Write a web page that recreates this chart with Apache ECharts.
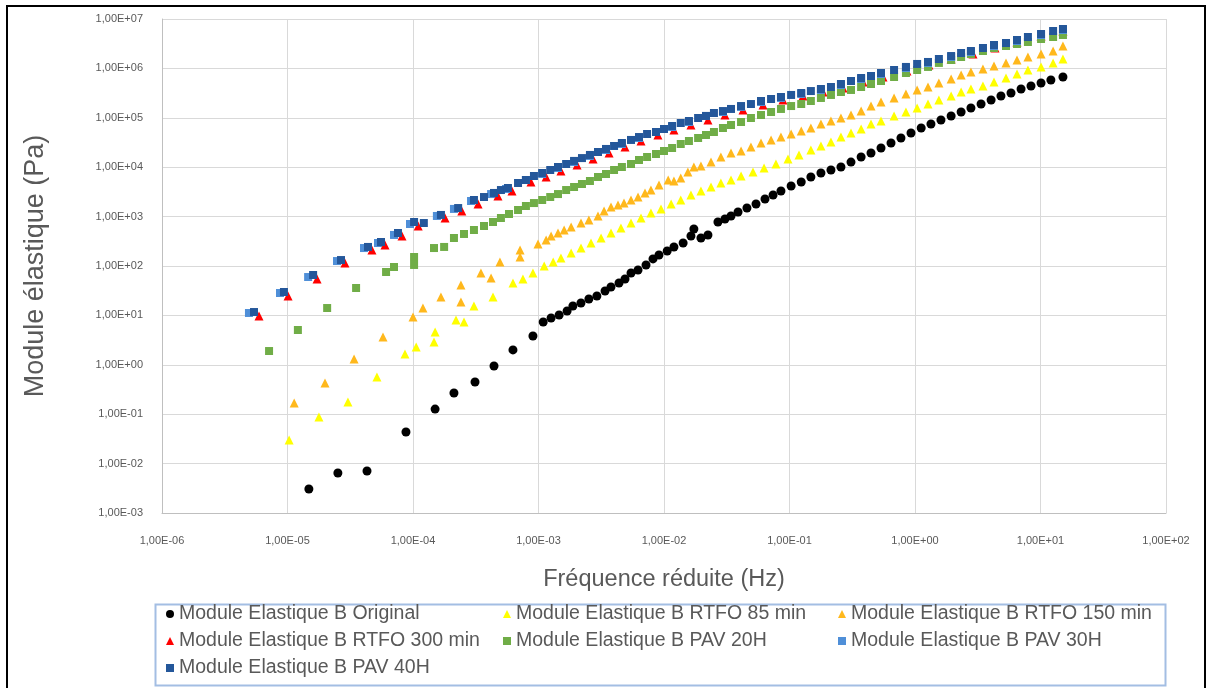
<!DOCTYPE html>
<html><head><meta charset="utf-8">
<script src="https://cdn.jsdelivr.net/npm/echarts@6/dist/echarts.min.js"></script>
<style>html,body{margin:0;padding:0;background:#fff}#c{width:1209px;height:688px}</style>
</head><body><div id="c"></div><script>
const seriesNames = ['Module Elastique B Original','Module Elastique B RTFO 85 min','Module Elastique B RTFO 150 min','Module Elastique B RTFO 300 min','Module Elastique B PAV 20H','Module Elastique B PAV 30H','Module Elastique B PAV 40H'];
const xTickLabels = ['1,00E-06','1,00E-05','1,00E-04','1,00E-03','1,00E-02','1,00E-01','1,00E+00','1,00E+01','1,00E+02'];
const yTickLabels = ['1,00E-03','1,00E-02','1,00E-01','1,00E+00','1,00E+01','1,00E+02','1,00E+03','1,00E+04','1,00E+05','1,00E+06','1,00E+07'];

const dataOriginal = [[1.48e-5,3.06e-3],[2.52e-5,6.45e-3],[4.30e-5,7.08e-3],[8.79e-5,0.0436],[1.50e-4,0.127],[2.12e-4,0.269],[3.12e-4,0.449],[4.42e-4,0.946],[6.26e-4,2.0],[9.03e-4,3.83],
[1.09e-3,7.35],[1.26e-3,8.85],[1.46e-3,10.2],[1.69e-3,12.3],[1.88e-3,15.5],[2.18e-3,17.8],[2.52e-3,21.5],[2.92e-3,24.7],[3.39e-3,31.2],[3.78e-3,37.6],[4.38e-3,45.3],[4.89e-3,54.6],[5.46e-3,72.1],[6.21e-3,83.0],[7.19e-3,105],[8.17e-3,139],[9.12e-3,167],[1.06e-2,201],[1.20e-2,243],[1.42e-2,292],[1.64e-2,405],[1.73e-2,561],[1.97e-2,369],[2.24e-2,425],[2.69e-2,778],[3.06e-2,894],[3.42e-2,1028],[3.89e-2,1239],[4.58e-2,1493],[5.41e-2,1799],[6.38e-2,2270],[7.40e-2,2735],[8.55e-2,3296],
[0.103,4159],[0.124,5012],[0.148,6339],[0.178,7638],[0.214,8770],[0.257,1.01e4],[0.309,1.27e4],[0.372,1.61e4],[0.446,1.94e4],[0.536,2.45e4],[0.644,3.09e4],[0.773,3.90e4],[0.929,4.92e4],[1.12,6.22e4],[1.34,7.48e4],[1.61,9.02e4],[1.94,1.09e5],[2.33,1.31e5],[2.79,1.58e5],[3.36,1.90e5],[4.04,2.29e5],[4.84,2.76e5],[5.82,3.18e5],[7.00,3.83e5],[8.40,4.41e5],[10.1,5.06e5],[12.1,5.82e5],[15.1,6.70e5]];

const dataRTFO85 = [[1.03e-5,0.0301],[1.78e-5,0.0877],[3.03e-5,0.177],[5.16e-5,0.566],[8.63e-5,1.66],[1.06e-4,2.29],[1.47e-4,2.89],[1.50e-4,4.61],[2.20e-4,8.07],[2.55e-4,7.35],[3.06e-4,15.5],[4.34e-4,23.6],[6.26e-4,45.3],[7.52e-4,54.6],[9.03e-4,72.1],[1.11e-3,100],[1.31e-3,121],[1.51e-3,145],[1.82e-3,183],[2.18e-3,231],[2.62e-3,292],[3.15e-3,369],[3.78e-3,466],[4.54e-3,587],[5.46e-3,741],[6.56e-3,937],[7.87e-3,1180],[9.46e-3,1430],[1.14e-2,1800],[1.36e-2,2170],[1.64e-2,2740],[1.97e-2,3300],[2.37e-2,3970],[2.84e-2,4790],[3.42e-2,5510],[4.11e-2,6640],[5.12e-2,8000],[6.27e-2,9640],[7.80e-2,1.16e4],[9.73e-2,1.47e4],[0.119,1.77e4],[0.148,2.23e4],[0.178,2.69e4],[0.214,3.24e4],[0.257,4.08e4],[0.309,4.92e4],[0.372,5.93e4],[0.446,7.48e4],[0.536,8.61e4],[0.681,1.09e5],[0.847,1.31e5],[1.04,1.58e5],[1.27,1.90e5],[1.55,2.29e5],[1.94,2.76e5],[2.33,3.33e5],[2.79,3.83e5],[3.48,4.41e5],[4.26,5.31e5],[5.31,6.40e5],[6.50,7.71e5],[7.94,9.29e5],[10.1,1.07e6],[12.6,1.29e6],[15.1,1.55e6]];

const dataRTFO150 = [[1.13e-5,0.169],[1.99e-5,0.429],[3.39e-5,1.31],[5.77e-5,3.66],[1.00e-4,9.29],[1.20e-4,14.1],[1.67e-4,23.6],[2.41e-4,41.2],[2.41e-4,18.7],[3.48e-4,72.1],[4.19e-4,57.2],[4.93e-4,121],[7.13e-4,152],[7.13e-4,211],[9.91e-4,279],[1.15e-3,336],[1.26e-3,405],[1.43e-3,466],[1.60e-3,535],[1.82e-3,615],[2.18e-3,741],[2.52e-3,853],[2.98e-3,1030],[3.33e-3,1300],[3.78e-3,1560],[4.30e-3,1720],[4.80e-3,1880],[5.46e-3,2170],[6.21e-3,2490],[7.06e-3,3010],[7.87e-3,3450],[9.12e-3,4360],[1.08e-2,5510],[1.20e-2,5260],[1.36e-2,6040],[1.55e-2,8000],[1.73e-2,1.01e4],[1.97e-2,1.06e4],[2.37e-2,1.27e4],[2.84e-2,1.61e4],[3.42e-2,1.94e4],[4.11e-2,2.13e4],[4.93e-2,2.56e4],[5.93e-2,3.09e4],[7.13e-2,3.56e4],[8.55e-2,4.08e4],[0.103,4.70e4],[0.124,5.41e4],[0.148,6.22e4],[0.178,7.48e4],[0.214,8.61e4],[0.257,9.91e4],[0.309,1.14e5],[0.372,1.37e5],[0.446,1.73e5],[0.536,2.09e5],[0.681,2.52e5],[0.847,3.03e5],[1.04,3.66e5],[1.27,4.20e5],[1.55,5.06e5],[1.94,6.10e5],[2.33,7.35e5],[2.79,8.45e5],[3.48,9.72e5],[4.26,1.12e6],[5.31,1.29e6],[6.50,1.48e6],[7.94,1.70e6],[10.1,1.95e6],[12.6,2.25e6],[15.1,2.84e6]];

const dataRTFO300 = [[5.93e-6,9.72],[1.01e-5,24.7],[1.72e-5,54.6],[2.87e-5,115],[4.71e-5,211],[5.98e-5,266],[8.17e-5,405],[1.10e-4,646],[1.80e-4,937],[2.45e-4,1300],[3.30e-4,1800],[4.75e-4,2610],[6.15e-4,3300],[8.71e-4,5010],[1.15e-3,6340],[1.51e-3,8380],[2.03e-3,1.11e4],[2.72e-3,1.47e4],[3.65e-3,1.94e4],[4.89e-3,2.56e4],[6.56e-3,3.39e4],[8.95e-3,4.49e4],[1.20e-2,5.66e4],[1.64e-2,7.14e4],[2.24e-2,9.02e4],[3.06e-2,1.14e5],[4.26e-2,1.44e5],[6.15e-2,1.82e5],[8.87e-2,2.29e5],[0.128,2.76e5],[0.185,3.33e5],[0.267,4.01e5],[0.385,5.31e5],[0.556,6.70e5],[0.863,8.85e5],[1.29,1.17e6],[1.94,1.55e6],[2.90,1.95e6],[4.34,2.59e6],[6.50,3.42e6],[10.1,4.53e6],[15.1,5.71e6]];

const dataPAV20 = [[7.13e-6,1.90],[1.21e-5,5.06],[2.07e-5,14.1],[3.52e-5,35.9],[6.10e-5,75.7],[7.06e-5,95.5],[1.02e-4,152],[1.02e-4,105],[1.47e-4,231],[1.77e-4,243],[2.12e-4,369],[2.55e-4,445],[3.06e-4,535],[3.68e-4,646],[4.34e-4,778],[5.02e-4,937],[5.82e-4,1130],[6.87e-4,1360],[7.94e-4,1640],[9.20e-4,1880],[1.07e-3,2170],[1.24e-3,2490],[1.43e-3,2860],[1.66e-3,3450],[1.92e-3,3970],[2.22e-3,4570],[2.57e-3,5260],[2.98e-3,6340],[3.45e-3,7280],[4.00e-3,8770],[4.62e-3,1.01e4],[5.46e-3,1.16e4],[6.32e-3,1.40e4],[7.33e-3,1.61e4],[8.63e-3,1.85e4],[1.00e-2,2.13e4],[1.16e-2,2.45e4],[1.36e-2,2.95e4],[1.58e-2,3.39e4],[1.87e-2,3.90e4],[2.16e-2,4.49e4],[2.50e-2,5.16e4],[2.95e-2,6.22e4],[3.42e-2,7.14e4],[4.11e-2,8.22e4],[4.93e-2,9.91e4],[5.93e-2,1.14e5],[7.13e-2,1.31e5],[8.55e-2,1.51e5],[0.103,1.73e5],[0.124,1.90e5],[0.148,2.19e5],[0.178,2.52e5],[0.214,2.90e5],[0.257,3.33e5],[0.309,3.66e5],[0.372,4.20e5],[0.446,4.83e5],[0.536,5.56e5],[0.681,6.70e5],[0.847,8.07e5],[1.04,9.29e5],[1.27,1.07e6],[1.55,1.29e6],[1.94,1.48e6],[2.33,1.70e6],[2.79,1.95e6],[3.48,2.25e6],[4.26,2.59e6],[5.31,2.84e6],[6.50,3.12e6],[7.94,3.42e6],[10.1,3.94e6],[12.6,4.32e6],[15.1,4.74e6]];

const dataPAV30 = [[4.93e-6,11.2],[8.71e-6,28.4],[1.46e-5,59.8],[2.48e-5,126],[4.07e-5,231],[5.26e-5,292],[7.06e-5,425],[9.46e-5,708],[1.55e-4,1030],[2.12e-4,1430],[2.90e-4,2070],[4.19e-4,2860],[5.51e-4,3620],[7.94e-4,5510],[1.07e-3,7280],[1.43e-3,9640],[1.92e-3,1.27e4],[2.57e-3,1.69e4],[3.45e-3,2.23e4],[4.62e-3,2.95e4],[6.32e-3,3.90e4],[8.63e-3,5.16e4],[1.16e-2,6.51e4],[1.58e-2,8.22e4],[2.16e-2,1.09e5],[2.95e-2,1.31e5],[4.11e-2,1.66e5],[5.93e-2,2.09e5],[8.55e-2,2.52e5],[0.124,3.03e5],[0.178,3.66e5],[0.257,4.61e5],[0.372,6.10e5],[0.536,7.71e5],[0.847,1.02e6],[1.27,1.29e6],[1.94,1.70e6],[2.79,2.15e6],[4.26,2.84e6],[6.50,3.59e6],[10.1,4.74e6],[15.1,5.99e6]];

const dataPAV40 = [[5.41e-6,11.7],[9.37e-6,29.8],[1.60e-5,65.8],[2.67e-5,132],[4.38e-5,243],[5.56e-5,306],[7.59e-5,466],[1.02e-4,778],[1.22e-4,741],[1.67e-4,1080],[2.29e-4,1490],[3.06e-4,2170],[3.68e-4,2490],[4.42e-4,3010],[5.02e-4,3450],[5.71e-4,3790],[6.87e-4,4790],[7.94e-4,5510],[9.20e-4,6640],[1.07e-3,7640],[1.24e-3,8770],[1.43e-3,1.01e4],[1.66e-3,1.16e4],[1.92e-3,1.34e4],[2.22e-3,1.53e4],[2.57e-3,1.77e4],[2.98e-3,2.03e4],[3.45e-3,2.34e4],[4.00e-3,2.69e4],[4.62e-3,3.09e4],[5.46e-3,3.56e4],[6.32e-3,4.08e4],[7.33e-3,4.70e4],[8.63e-3,5.16e4],[1.00e-2,5.93e4],[1.16e-2,6.82e4],[1.36e-2,7.85e4],[1.58e-2,8.61e4],[1.87e-2,9.91e4],[2.16e-2,1.09e5],[2.50e-2,1.25e5],[2.95e-2,1.37e5],[3.42e-2,1.51e5],[4.11e-2,1.73e5],[4.93e-2,1.90e5],[5.93e-2,2.19e5],[7.13e-2,2.40e5],[8.55e-2,2.64e5],[0.103,2.90e5],[0.124,3.18e5],[0.148,3.48e5],[0.178,3.83e5],[0.214,4.20e5],[0.257,4.83e5],[0.309,5.56e5],[0.372,6.40e5],[0.446,7.02e5],[0.536,8.07e5],[0.681,9.29e5],[0.847,1.07e6],[1.04,1.23e6],[1.27,1.35e6],[1.55,1.55e6],[1.94,1.78e6],[2.33,2.05e6],[2.79,2.25e6],[3.48,2.59e6],[4.26,2.98e6],[5.31,3.27e6],[6.50,3.76e6],[7.94,4.32e6],[10.1,4.97e6],[12.6,5.71e6],[15.1,6.28e6]];

const seriesData = [dataOriginal, dataRTFO85, dataRTFO150, dataRTFO300, dataPAV20, dataPAV30, dataPAV40];
const seriesColors = ['#000000','#FFFF00','#FFB81C','#FF0000','#70AD47','#4F8FD8','#24579A'];
const seriesSymbols = ['circle','triangle','triangle','triangle','rect','rect','rect'];
const seriesSizes = [9,9,9,9,8,8,8];

const chart = echarts.init(document.getElementById('c'), null, {renderer:'canvas'});
const FONT = 'Liberation Sans';
const gray = '#595959';

function legendCol(left, names){
  return {
    left: left, top: 604, orient: 'vertical', padding: 0, itemGap: 7,
    itemWidth: 8, itemHeight: 8,
    data: names,
    textStyle: {color: gray, fontSize: 19.5, fontFamily: FONT, lineHeight: 20}
  };
}

const option = {
  animation: false,
  backgroundColor: '#ffffff',
  grid: {left: 162, right: 43, top: 19, bottom: 175},
  xAxis: {
    type: 'log', logBase: 10, min: 1e-6, max: 1e2, interval: 1,
    name: 'Fréquence réduite (Hz)', nameLocation: 'middle', nameGap: 55,
    nameTextStyle: {color: gray, fontSize: 23.5, fontFamily: FONT},
    axisLine: {show: true, lineStyle: {color: '#BFBFBF', width: 1}},
    axisTick: {show: false},
    axisLabel: {margin: 22, color: gray, fontSize: 11, fontFamily: FONT,
      formatter: v => xTickLabels[Math.round(Math.log10(v)) + 6]},
    splitLine: {show: true, lineStyle: {color: '#D9D9D9', width: 1}},
    minorTick: {show: false}
  },
  yAxis: {
    type: 'log', logBase: 10, min: 1e-3, max: 1e7, interval: 1,
    name: 'Module élastique (Pa)', nameLocation: 'middle', nameGap: 113, nameRotate: 90,
    nameTextStyle: {color: gray, fontSize: 27, fontFamily: FONT},
    axisLine: {show: true, lineStyle: {color: '#BFBFBF', width: 1}},
    axisTick: {show: false},
    axisLabel: {margin: 19, color: gray, fontSize: 11, fontFamily: FONT,
      formatter: v => yTickLabels[Math.round(Math.log10(v)) + 3]},
    splitLine: {show: true, lineStyle: {color: '#D9D9D9', width: 1}}
  },
  legend: [
    legendCol(166, [seriesNames[0], seriesNames[3], seriesNames[6]]),
    legendCol(503, [seriesNames[1], seriesNames[4]]),
    legendCol(838, [seriesNames[2], seriesNames[5]])
  ],
  graphic: [
    {type: 'rect', left: 153, top: 602, shape: {width: 1010, height: 81}, style: {fill: 'none', stroke: '#A3BEE3', lineWidth: 2}, silent: true},
    {type: 'polyline', shape: {points: [[7,700],[7,6],[1205,6],[1205,700]]}, style: {fill: 'none', stroke: '#000000', lineWidth: 2}, silent: true}
  ],
  series: seriesNames.map((n, i) => ({
    name: n, type: 'scatter',
    data: seriesData[i],
    symbol: seriesSymbols[i], symbolSize: seriesSizes[i],
    itemStyle: {color: seriesColors[i], opacity: 1}
  }))
};
chart.setOption(option);
</script></body></html>
